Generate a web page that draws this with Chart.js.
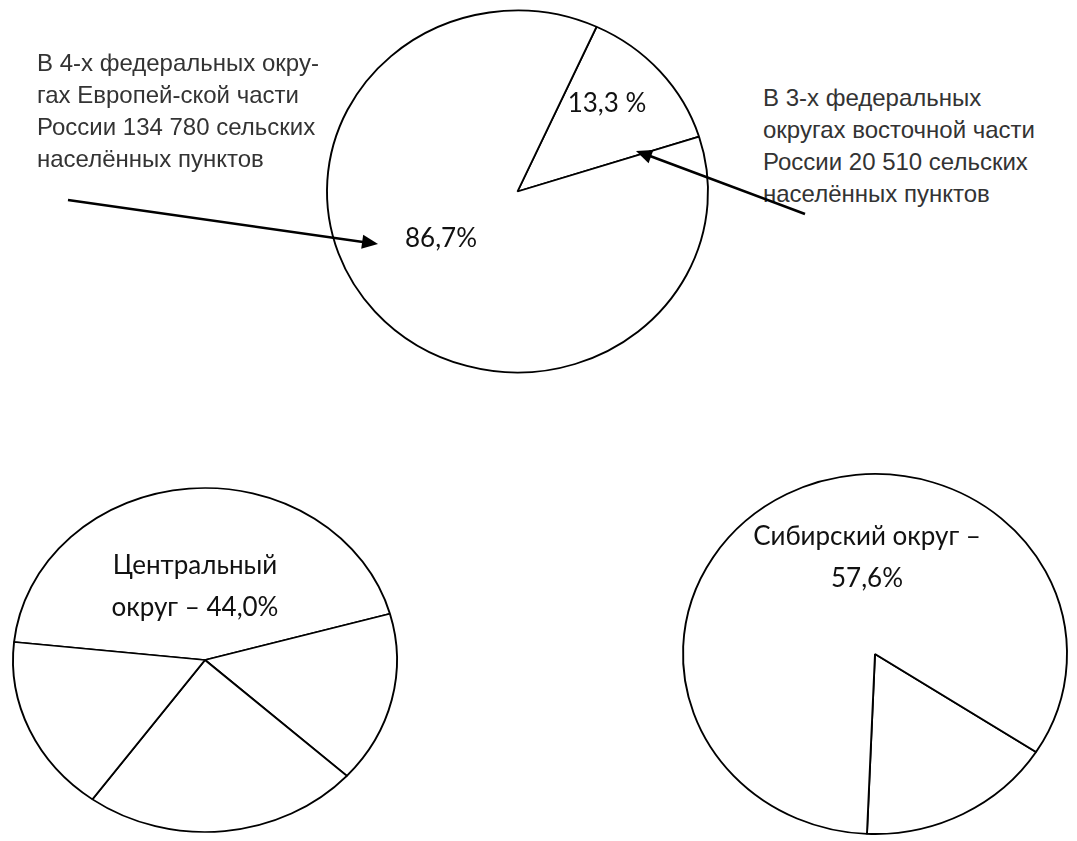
<!DOCTYPE html>
<html>
<head>
<meta charset="utf-8">
<script src="https://cdn.jsdelivr.net/npm/chart.js@4"></script>
<style>
  html, body { margin: 0; padding: 0; background: #fff; overflow: hidden; }
  #stage { position: relative; width: 1077px; height: 841px; overflow: hidden; background: #fff; }
  .pie { position: absolute; }
  .note { position: absolute; font-family: "Liberation Sans", Arial, sans-serif; font-size: 24px; line-height: 32px; color: #333; white-space: nowrap; }
  .lbl { position: absolute; font-family: Lato, "Noto Sans", sans-serif; font-size: 26px; line-height: 42px; color: #111; white-space: nowrap; transform: translateX(-50%); text-align: center; }
  svg { position: absolute; left: 0; top: 0; }
</style>
</head>
<body>
<div id="stage">
  <div class="pie" id="p1"><canvas id="c1"></canvas></div>
  <div class="pie" id="p2"><canvas id="c2"></canvas></div>
  <div class="pie" id="p3"><canvas id="c3"></canvas></div>

  <div class="note" style="left:37px; top:47px;">В 4-х федеральных окру-<br>гах Европей-ской части<br>России 134 780 сельских<br>населённых пунктов</div>
  <div class="note" style="left:763px; top:82px;">В 3-х федеральных<br>округах восточной части<br>России 20 510 сельских<br>населённых пунктов</div>

  <div class="lbl" style="left:607px; top:81px;">13,3 %</div>
  <div class="lbl" style="left:441px; top:216px;">86,7%</div>
  <div class="lbl" style="left:195px; top:543px;">Центральный<br>округ – 44,0%</div>
  <div class="lbl" style="left:867px; top:514px;">Сибирский округ –<br>57,6%</div>

  <svg width="1077" height="841" viewBox="0 0 1077 841">
    <line x1="68" y1="200" x2="363" y2="242" stroke="#000" stroke-width="2.6"/>
    <polygon points="378,244 361.2,248.7 363.2,234.8" fill="#000"/>
    <line x1="805" y1="214" x2="650" y2="156" stroke="#000" stroke-width="2.6"/>
    <polygon points="636,151 653.4,150.0 648.6,163.2" fill="#000"/>
  </svg>
</div>
<script>
// ---- data ----
const topLabels = ['Восточная часть России (3 ФО)', 'Европейская часть России (4 ФО)'];
const topValues = [13.3, 86.7];

const europeLabels = ['Центральный округ', 'Округ 2', 'Округ 3', 'Округ 4'];
const europeValues = [44.0, 16.1, 23.2, 16.7];

const eastLabels = ['Другой округ', 'Сибирский округ и др.'];
const eastValues = [16.5, 83.5];

// ---- plugin: squash vertically to reproduce the oval drawing ----
const squash = {
  id: 'squash',
  beforeDatasetsDraw(chart, args, opts) {
    const ctx = chart.ctx, a = chart.chartArea;
    const cy = (a.top + a.bottom) / 2;
    ctx.save();
    ctx.translate(0, cy);
    ctx.scale(1, opts.sy || 1);
    ctx.translate(0, -cy);
  },
  afterDatasetsDraw(chart) { chart.ctx.restore(); }
};

function makePie(divId, canvasId, labels, values, cx, cy, rx, ry, rotation) {
  const size = Math.round(2 * rx + 24);
  const div = document.getElementById(divId);
  div.style.left = (cx - size / 2) + 'px';
  div.style.top = (cy - size / 2) + 'px';
  const cv = document.getElementById(canvasId);
  cv.width = size; cv.height = size;
  cv.style.width = size + 'px'; cv.style.height = size + 'px';
  return new Chart(cv, {
    type: 'pie',
    data: {
      labels: labels,
      datasets: [{
        data: values,
        backgroundColor: '#ffffff',
        borderColor: '#000000',
        borderWidth: 1.9,
        hoverOffset: 0
      }]
    },
    options: {
      responsive: false,
      animation: false,
      events: [],
      rotation: rotation,
      radius: rx,
      layout: { padding: 0 },
      plugins: {
        legend: { display: false },
        tooltip: { enabled: false },
        squash: { sy: ry / rx }
      }
    },
    plugins: [squash]
  });
}

makePie('p1', 'c1', topLabels, topValues, 517.5, 191, 190.5, 181, 24.5);
makePie('p2', 'c2', europeLabels, europeValues, 205, 660, 192, 172, 276);
makePie('p3', 'c3', eastLabels, eastValues, 875, 654, 192, 180, 123);
</script>
</body>
</html>
